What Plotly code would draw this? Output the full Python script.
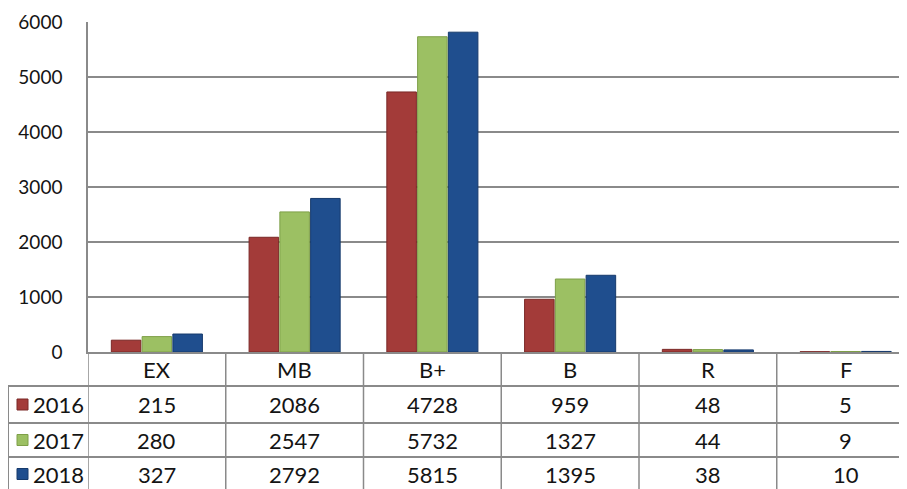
import plotly.graph_objects as go

# data
categories = ["EX", "MB", "B+", "B", "R", "F"]
years = ["2016", "2017", "2018"]
v2016 = [215, 2086, 4728, 959, 48, 5]
v2017 = [280, 2547, 5732, 1327, 44, 9]
v2018 = [327, 2792, 5815, 1395, 38, 10]
y_ticks = [0, 1000, 2000, 3000, 4000, 5000, 6000]

series = [v2016, v2017, v2018]
colors = ["#a33b39", "#9cc063", "#1f4e8e"]
edges = ["#7a2826", "#7e9f48", "#163a6c"]

# the page body adds an 8px margin, so the figure is drawn 8px smaller
OFF = 8
W, H = 907 - OFF, 489 - OFF
ML, MT = 88 - OFF, 22 - OFF
MB = H - (352 - OFF)
plot_h = H - MT - MB
plot_w = W - ML
cat_px = 137.75
x_max = -0.5 + plot_w / cat_px

FONT = "Lato, 'Open Sans', sans-serif"
TXT = "#141414"
GRID = "#8a8a8a"
FS_TICK = 19
FS_TAB = 22


def py(p):
    # page pixel row -> paper y
    return (H - MB - (p - OFF)) / plot_h


def px(p):
    # page pixel column -> paper x
    return (p - OFF - ML) / plot_w


fig = go.Figure()
for name, vals, c, e in zip(years, series, colors, edges):
    fig.add_trace(go.Bar(
        x=categories, y=vals, name=name,
        marker=dict(color=c, line=dict(color=e, width=1)),
        showlegend=False,
    ))

# data table under the plot
row_edges = [352, 386, 423, 457]
row_mids = [369, 404.5, 440, 474]
shapes = []
for r in row_edges[1:]:
    shapes.append(dict(type="line", xref="paper", yref="paper",
                       x0=px(8), x1=1.0, y0=py(r), y1=py(r), layer="above",
                       line=dict(color=GRID, width=2)))
shapes.append(dict(type="line", xref="paper", yref="paper",
                   x0=px(8), x1=px(8), y0=py(row_edges[1]), y1=py(500),
                   layer="above", line=dict(color=GRID, width=2)))
for i in range(len(categories) + 1):
    shapes.append(dict(type="line", xref="x", yref="paper",
                       x0=i - 0.5, x1=i - 0.5, y0=0, y1=py(500),
                       line=dict(color=GRID, width=1.5)))

annotations = []
for i, cat in enumerate(categories):
    annotations.append(dict(x=cat, y=py(row_mids[0]), xref="x", yref="paper",
                            xanchor="center", yanchor="middle",
                            text=cat, showarrow=False,
                            font=dict(size=FS_TAB, color=TXT, family=FONT)))
for r, (name, vals, c, e) in enumerate(zip(years, series, colors, edges)):
    mid = row_mids[r + 1]
    yc = py(mid)
    # legend key square
    shapes.append(dict(type="rect", xref="paper", yref="paper",
                       x0=px(17), x1=px(28), y0=py(mid + 5.5), y1=py(mid - 5.5),
                       fillcolor=c, line=dict(color=e, width=1)))
    annotations.append(dict(x=px(31), y=yc, xref="paper", yref="paper",
                            xanchor="left", yanchor="middle", showarrow=False,
                            text=name,
                            font=dict(size=FS_TAB, color=TXT, family=FONT)))
    for cat, v in zip(categories, vals):
        annotations.append(dict(x=cat, y=yc, xref="x", yref="paper",
                                xanchor="center", yanchor="middle",
                                text=str(v), showarrow=False,
                                font=dict(size=FS_TAB, color=TXT, family=FONT)))

fig.update_layout(
    width=W, height=H,
    margin=dict(l=ML, r=0, t=MT, b=MB, pad=0),
    plot_bgcolor="white", paper_bgcolor="white",
    barmode="group", bargap=0.33, bargroupgap=0.04,
    font=dict(family=FONT, size=FS_TICK, color=TXT),
    xaxis=dict(range=[-0.5, x_max], showticklabels=False, showgrid=False,
               showline=True, linecolor=GRID, linewidth=1.5, ticks="",
               fixedrange=True, automargin=False),
    yaxis=dict(range=[0, 6000], tickvals=y_ticks, showgrid=True,
               gridcolor=GRID, gridwidth=1.5, showline=True, linecolor=GRID,
               linewidth=1.5, zeroline=False, ticks="", ticklabelstandoff=20,
               automargin=False,
               tickfont=dict(size=FS_TICK, color=TXT, family=FONT)),
    shapes=shapes,
    annotations=annotations,
)

fig.write_html("out.html")
